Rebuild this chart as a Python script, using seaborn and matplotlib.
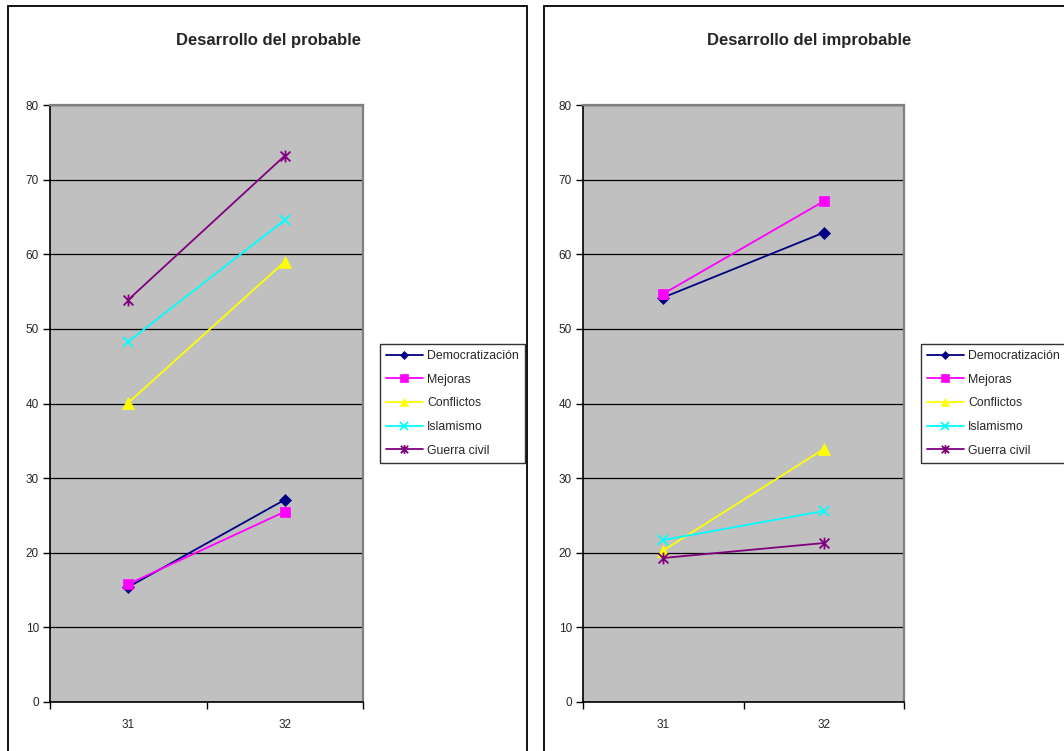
import numpy as np
import pandas as pd
import matplotlib
matplotlib.use("Agg")
import matplotlib.pyplot as plt
import seaborn as sns
from matplotlib.path import Path
from matplotlib.patches import Rectangle
from matplotlib.ticker import MultipleLocator, FixedLocator

sns.set_style("white")
plt.rcParams['font.family'] = ['Liberation Sans', 'DejaVu Sans']

categories = ["31", "32"]
series = ["Democratización", "Mejoras", "Conflictos", "Islamismo", "Guerra civil"]

# Desarrollo del probable
prob_democratizacion = [15.4, 27.1]
prob_mejoras = [15.8, 25.5]
prob_conflictos = [40.1, 59.0]
prob_islamismo = [48.3, 64.6]
prob_guerra = [53.9, 73.2]

# Desarrollo del improbable
improb_democratizacion = [54.2, 62.9]
improb_mejoras = [54.7, 67.1]
improb_conflictos = [20.3, 33.9]
improb_islamismo = [21.7, 25.6]
improb_guerra = [19.3, 21.3]

colors = ["#000080", "#FF00FF", "#FFFF00", "#00FFFF", "#800080"]

star = Path([(-1, -1), (1, 1), (-1, 1), (1, -1), (0, -1.2), (0, 1.2)],
            [Path.MOVETO, Path.LINETO, Path.MOVETO, Path.LINETO, Path.MOVETO, Path.LINETO])
markers = ["D", "s", "^", "x", star]
msizes = [6, 7, 8, 7.5, 8.5]

prob = [prob_democratizacion, prob_mejoras, prob_conflictos, prob_islamismo, prob_guerra]
improb = [improb_democratizacion, improb_mejoras, improb_conflictos, improb_islamismo, improb_guerra]

W, H = 1064, 751
fig = plt.figure(figsize=(W / 100, H / 100), dpi=100)

# panel borders
for x0, x1 in [(8, 527), (544, 1080)]:
    fig.patches.append(Rectangle((x0 / W, -0.05), (x1 - x0) / W, 1 - 6 / H + 0.05,
                                 transform=fig.transFigure, fill=False,
                                 edgecolor="black", linewidth=1.3, zorder=0))

def make_panel(left, right, data, title, title_x, leg_x):
    ax = fig.add_axes([left / W, 1 - 702 / H, (right - left) / W, (702 - 105) / H])
    ax.set_facecolor("#C0C0C0")
    for name, vals, c, m, ms in zip(series, data, colors, markers, msizes):
        df = pd.DataFrame({"x": categories, "y": vals})
        sns.lineplot(data=df, x="x", y="y", ax=ax, color=c, marker=m, markersize=ms,
                     linewidth=1.3, label=name, sort=False, markeredgecolor=c,
                     markerfacecolor=c, markeredgewidth=1.3 if (isinstance(m, Path) or m == "x") else 0.5)
    ax.set_xlim(-0.5, 1.5)
    ax.set_ylim(0, 80)
    ax.yaxis.set_major_locator(MultipleLocator(10))
    ax.xaxis.set_major_locator(FixedLocator([0, 1]))
    ax.set_xticklabels(categories)
    ax.xaxis.set_minor_locator(FixedLocator([-0.5, 0.5, 1.5]))
    ax.tick_params(axis="x", which="major", length=0, pad=12, labelsize=8.5)
    ax.tick_params(axis="x", which="minor", length=5, width=1, color="black", direction="out", bottom=True)
    ax.tick_params(axis="y", which="major", length=5, width=1, color="black", direction="out",
                   pad=3, labelsize=8.5, left=True)
    ax.set_xlabel("")
    ax.set_ylabel("")
    ax.set_axisbelow(True)
    ax.yaxis.grid(True, color="black", linewidth=0.9)
    ax.xaxis.grid(False)
    for s in ["left", "bottom"]:
        ax.spines[s].set_color("black")
        ax.spines[s].set_linewidth(1.2)
    for s in ["top", "right"]:
        ax.spines[s].set_color("#808080")
        ax.spines[s].set_linewidth(1.6)
    ax.get_legend().remove()
    handles, labels = ax.get_legend_handles_labels()
    leg = fig.legend(handles, labels, loc="upper left", bbox_to_anchor=(leg_x / W, 1 - 344 / H),
                     bbox_transform=fig.transFigure, borderaxespad=0, fontsize=8.8,
                     frameon=True, fancybox=False, shadow=False, handlelength=3.0,
                     handletextpad=0.35, labelspacing=0.95, borderpad=0.5, markerscale=0.75)
    leg.get_frame().set_edgecolor("black")
    leg.get_frame().set_linewidth(1.0)
    fig.text(title_x / W, 1 - 40 / H, title, ha="center", va="center",
             fontsize=12, fontweight="bold")
    return ax

make_panel(50, 363, prob, "Desarrollo del probable", 268, 380)
make_panel(583, 904, improb, "Desarrollo del improbable", 809, 921)

fig.savefig("out.png", dpi=100, facecolor="white")
